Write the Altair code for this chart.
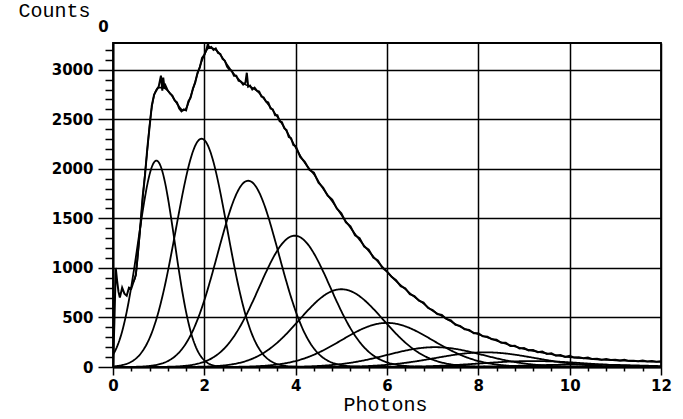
import altair as alt
import numpy as np
import pandas as pd

# Measured pulse-height histogram: bin position (photons) and counts per bin
hist_x = [0.00, 0.03, 0.06, 0.09, 0.12, 0.15, 0.20, 0.25, 0.30, 0.35, 0.40, 0.45,
          0.50, 0.55, 0.60, 0.65, 0.70, 0.75, 0.80, 0.85, 0.90, 0.95, 1.00, 1.05,
          1.08, 1.10, 1.13, 1.15, 1.20, 1.25, 1.30, 1.35, 1.40, 1.45, 1.50, 1.55,
          1.60, 1.65, 1.70, 1.75, 1.80, 1.85, 1.90, 1.95, 2.00, 2.05, 2.08, 2.10,
          2.15, 2.20, 2.25, 2.30, 2.35, 2.40, 2.45, 2.50, 2.55, 2.60, 2.65, 2.70,
          2.75, 2.80, 2.85, 2.90, 2.93, 2.96, 3.00, 3.05, 3.10, 3.15, 3.20, 3.25,
          3.30, 3.35, 3.40, 3.45, 3.50, 3.55, 3.60, 3.65, 3.70, 3.75, 3.80, 3.85,
          3.90, 3.95] + [round(4.0 + 0.1 * i, 1) for i in range(81)]
hist_counts = [0, 450, 1000, 870, 760, 700, 800, 740, 720, 800, 790, 860,
               930, 1180, 1430, 1720, 1930, 2200, 2420, 2640, 2750, 2790, 2830, 2940,
               2790, 2920, 2810, 2840, 2790, 2760, 2740, 2690, 2670, 2610, 2580, 2600,
               2590, 2680, 2720, 2810, 2870, 2970, 3020, 3120, 3150, 3210, 3265, 3220,
               3230, 3200, 3215, 3170, 3160, 3110, 3090, 3030, 3000, 2990, 2940, 2940,
               2890, 2880, 2850, 2870, 2970, 2830, 2840, 2800, 2820, 2790, 2780, 2730,
               2720, 2680, 2670, 2610, 2600, 2540, 2540, 2480, 2470, 2410, 2390, 2320,
               2310, 2240,
               2230, 2120, 2070, 1990, 1960, 1860, 1810, 1730, 1690, 1600,
               1550, 1460, 1420, 1330, 1300, 1215, 1185, 1105, 1075, 1000,
               965, 910, 875, 815, 795, 735, 715, 670, 650, 595,
               575, 535, 525, 485, 470, 425, 415, 380, 375, 340,
               340, 310, 305, 280, 275, 245, 245, 212, 215, 188,
               192, 168, 172, 150, 155, 132, 138, 115, 120, 102,
               112, 95, 98, 88, 96, 80, 84, 74, 80, 70,
               72, 65, 74, 62, 63, 58, 66, 55, 60, 52, 58]

# Smooth total fit through the histogram
fit_x = [0.45, 0.50, 0.55, 0.60, 0.65, 0.70, 0.75, 0.80, 0.85, 0.90, 0.95, 1.00,
         1.10, 1.20, 1.30, 1.40, 1.50, 1.55, 1.60, 1.70, 1.80, 1.90, 2.00, 2.10,
         2.20, 2.30, 2.40, 2.50, 2.60, 2.70, 2.80, 2.90, 3.00, 3.10, 3.20, 3.30,
         3.40, 3.50, 3.60, 3.70, 3.80, 3.90] + [round(4.0 + 0.2 * i, 1) for i in range(41)]
fit_counts = [860, 930, 1150, 1420, 1700, 1950, 2180, 2430, 2620, 2740, 2800, 2820,
              2820, 2790, 2730, 2660, 2600, 2590, 2610, 2730, 2880, 3030, 3150, 3220,
              3215, 3180, 3120, 3050, 2985, 2930, 2880, 2850, 2830, 2805, 2765, 2710,
              2650, 2590, 2525, 2455, 2380, 2300,
              2215, 2060, 1945, 1800, 1672, 1535, 1405, 1282, 1170, 1062,
              962, 866, 786, 707, 640, 568, 515, 460, 408, 366,
              330, 298, 266, 234, 206, 182, 163, 145, 128, 112,
              100, 92, 84, 77, 72, 67, 63, 59, 56, 54, 52]

# Gaussian components of the fit: centre (photons), peak height (counts), width
comp_center = [0.95, 1.94, 2.96, 3.98, 5.00, 6.00, 7.05, 8.15, 9.20, 10.30]
comp_peak = [2083, 2304, 1880, 1325, 785, 445, 200, 148, 60, 25]
comp_sigma = [0.40, 0.56, 0.67, 0.78, 0.92, 1.00, 1.05, 1.10, 1.15, 1.20]

x_ticks = [round(0.4 * i, 1) for i in range(31)]
y_ticks = list(range(0, 3201, 100))
y_top = 3270

hist_df = pd.DataFrame({"photons": hist_x, "counts": hist_counts})
fit_df = pd.DataFrame({"photons": fit_x, "counts": fit_counts})

grid = np.linspace(0, 12, 601)
comp_rows = []
for k, (c, a, s) in enumerate(zip(comp_center, comp_peak, comp_sigma)):
    vals = a * np.exp(-((grid - c) ** 2) / (2 * s * s))
    comp_rows.append(pd.DataFrame({"photons": grid, "counts": vals, "n": k + 1}))
comp_df = pd.concat(comp_rows, ignore_index=True)

tick_font = "DejaVu Sans"
title_font = "Liberation Mono"

x_scale = alt.Scale(domain=[0, 12], nice=False, zero=False)
y_scale = alt.Scale(domain=[0, y_top], nice=False)

x_axis = alt.Axis(
    values=x_ticks, tickCount=100,
    labelExpr="datum.value % 2 === 0 ? format(datum.value, 'd') : ''",
    tickSize={"condition": {"test": "datum.value % 2 === 0", "value": 8}, "value": 4},
    gridOpacity={"condition": {"test": "datum.value % 2 === 0", "value": 1}, "value": 0},
    grid=True, gridColor="black", gridWidth=1.5,
    tickColor="black", tickWidth=1.5,
    domainColor="black", domainWidth=1.8,
    labelFont=tick_font, labelFontSize=15, labelFontWeight="bold", labelColor="black",
    labelPadding=3, labelOverlap=False, labelFlush=False, labelBound=False,
    title="Photons", titleFont=title_font, titleFontSize=20, titleFontWeight="normal",
    titleColor="black", titleAlign="center", titleBaseline="alphabetic",
    titleX=272, titleY=43,
)
y_axis = alt.Axis(
    values=y_ticks, tickCount=100,
    labelExpr="datum.value % 500 === 0 ? format(datum.value, 'd') : ''",
    tickSize={"condition": {"test": "datum.value % 500 === 0", "value": 15}, "value": 8},
    gridOpacity={"condition": {"test": "datum.value % 500 === 0", "value": 1}, "value": 0},
    grid=True, gridColor="black", gridWidth=1.5,
    tickColor="black", tickWidth=1.5,
    domainColor="black", domainWidth=1.8,
    labelFont=tick_font, labelFontSize=15, labelFontWeight="bold", labelColor="black",
    labelPadding=5, labelOverlap=False, labelFlush=False, labelBound=False,
    title="Counts", titleFont=title_font, titleFontSize=20, titleFontWeight="normal",
    titleColor="black", titleAngle=0, titleAlign="left", titleBaseline="alphabetic",
    titleX=-95, titleY=-27,
)

components = alt.Chart(comp_df).mark_line(
    color="black", strokeWidth=1.8, clip=True
).encode(
    x=alt.X("photons:Q", scale=x_scale, axis=x_axis),
    y=alt.Y("counts:Q", scale=y_scale, axis=y_axis),
    detail="n:N",
)

fit = alt.Chart(fit_df).mark_line(
    color="black", strokeWidth=1.6, interpolate="monotone", clip=True
).encode(
    x=alt.X("photons:Q", scale=x_scale),
    y=alt.Y("counts:Q", scale=y_scale),
)

hist = alt.Chart(hist_df).mark_line(
    color="black", strokeWidth=2.0, clip=True
).encode(
    x=alt.X("photons:Q", scale=x_scale),
    y=alt.Y("counts:Q", scale=y_scale),
)

corner = alt.Chart(pd.DataFrame({"t": ["0"]})).mark_text(
    font=tick_font, fontSize=15, fontWeight="bold", color="black",
    align="center", baseline="middle"
).encode(text="t:N", x=alt.value(-9.5), y=alt.value(-16))

chart = alt.layer(components, fit, hist, corner).properties(
    width=548,
    height=324,
    autosize=alt.AutoSizeParams(type="none"),
    padding={"left": 113, "top": 43, "right": 22, "bottom": 52},
    background="white",
).configure_view(stroke="black", strokeWidth=1.8)

chart.save("out.html", embed_options={"renderer": "svg", "actions": False})
